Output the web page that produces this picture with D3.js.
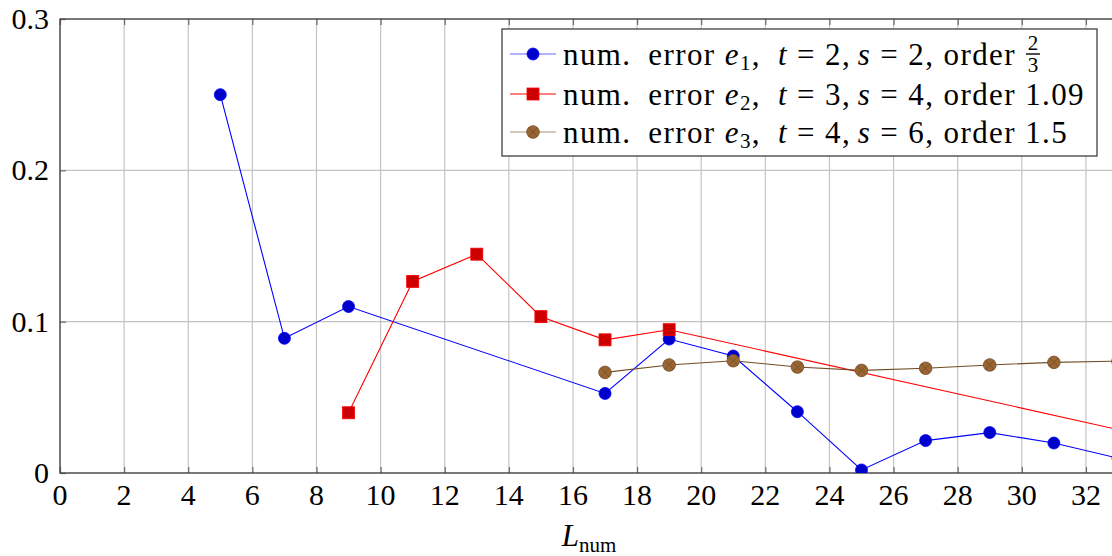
<!DOCTYPE html>
<html>
<head>
<meta charset="utf-8">
<script src="https://cdn.jsdelivr.net/npm/d3@7"></script>
<style>
  html, body { margin: 0; padding: 0; background: #fff; }
  svg { display: block; }
  text { font-family: "Liberation Serif", "DejaVu Serif", serif; fill: #000; }
</style>
</head>
<body>
<svg id="chart" width="1112" height="556"></svg>
<script>
// Numerical error against L_num for three schemes
const xE1 = [5, 7, 9, 17, 19, 21, 23, 25, 27, 29, 31, 33];
const yE1 = [0.250, 0.089, 0.110, 0.0526, 0.0885, 0.0773, 0.0405, 0.002, 0.0214, 0.0267, 0.0198, 0.0098];

const xE2 = [9, 11, 13, 15, 17, 19, 35];
const yE2 = [0.0398, 0.1266, 0.1446, 0.1033, 0.088, 0.0947, 0.0193];

const xE3 = [17, 19, 21, 23, 25, 27, 29, 31, 33];
const yE3 = [0.0665, 0.0714, 0.0742, 0.070, 0.0678, 0.0692, 0.0714, 0.0731, 0.0739];

const xTicks = d3.range(0, 33, 2);
const yTicks = [0, 0.1, 0.2, 0.3];
const yTickLabels = ["0", "0.1", "0.2", "0.3"];

const svg = d3.select("#chart");
const pLeft = 60, pTop = 19, pRight = 1118, pBottom = 473;

const x = d3.scaleLinear().domain([0, 33]).range([pLeft, pRight]);
const y = d3.scaleLinear().domain([0, 0.3]).range([pBottom, pTop]);

svg.append("defs").append("clipPath").attr("id", "plotclip")
  .append("rect").attr("x", pLeft).attr("y", pTop)
  .attr("width", pRight - pLeft).attr("height", pBottom - pTop);

// grid
const grid = svg.append("g").attr("stroke", "#c4c4c4").attr("stroke-width", 1.2);
grid.selectAll(".gx").data(xTicks).join("line")
  .attr("x1", d => x(d)).attr("x2", d => x(d)).attr("y1", pTop).attr("y2", pBottom);
grid.selectAll(".gy").data(yTicks).join("line")
  .attr("x1", pLeft).attr("x2", pRight).attr("y1", d => y(d)).attr("y2", d => y(d));

// axes with inward ticks on all four sides
const tl = 6;
const axB = svg.append("g").attr("transform", `translate(0,${pBottom})`)
  .call(d3.axisTop(x).tickValues(xTicks).tickSize(tl).tickFormat(""));
const axT = svg.append("g").attr("transform", `translate(0,${pTop})`)
  .call(d3.axisBottom(x).tickValues(xTicks).tickSize(tl).tickFormat(""));
const axL = svg.append("g").attr("transform", `translate(${pLeft},0)`)
  .call(d3.axisRight(y).tickValues(yTicks).tickSize(tl).tickFormat(""));
const axR = svg.append("g").attr("transform", `translate(${pRight},0)`)
  .call(d3.axisLeft(y).tickValues(yTicks).tickSize(tl).tickFormat(""));
[axB, axT, axL, axR].forEach(a => {
  a.select(".domain").remove();
  a.selectAll(".tick line").attr("stroke", "#6a6a6a").attr("stroke-width", 1.2);
});

// frame
svg.append("rect").attr("x", pLeft).attr("y", pTop)
  .attr("width", pRight - pLeft).attr("height", pBottom - pTop)
  .attr("fill", "none").attr("stroke", "#404040").attr("stroke-width", 1.3);

// tick labels
svg.append("g").selectAll("text").data(xTicks).join("text")
  .attr("x", d => x(d)).attr("y", pBottom + 32)
  .attr("text-anchor", "middle").attr("font-size", 30)
  .text(d => d);
svg.append("g").selectAll("text").data(yTicks).join("text")
  .attr("x", pLeft - 11).attr("y", d => y(d) + 10)
  .attr("text-anchor", "end").attr("font-size", 30)
  .text((d, i) => yTickLabels[i]);

// axis label L_num
const xl = svg.append("text").attr("x", (pLeft + pRight) / 2).attr("y", pBottom + 73)
  .attr("text-anchor", "middle").attr("font-size", 31);
xl.append("tspan").attr("font-style", "italic").text("L");
xl.append("tspan").attr("font-size", 21).attr("dy", 6).text("num");

// series
const series = [
  { xs: xE1, ys: yE1, line: "#0000ff", fill: "#0000cc", stroke: "#0000ff", mark: "circle" },
  { xs: xE2, ys: yE2, line: "#ff0000", fill: "#cc0000", stroke: "#ff0000", mark: "square" },
  { xs: xE3, ys: yE3, line: "#734d26", fill: "#996633", stroke: "#734d26", mark: "otimes" }
];

const plot = svg.append("g").attr("clip-path", "url(#plotclip)");
const lineGen = d3.line().x(d => x(d[0])).y(d => y(d[1]));

function drawMark(g, s, cx, cy) {
  if (s.mark === "circle") {
    g.append("circle").attr("cx", cx).attr("cy", cy).attr("r", 6)
      .attr("fill", s.fill).attr("stroke", s.stroke).attr("stroke-width", 0.8);
  } else if (s.mark === "square") {
    g.append("rect").attr("x", cx - 6).attr("y", cy - 6).attr("width", 12).attr("height", 12)
      .attr("fill", s.fill).attr("stroke", s.stroke).attr("stroke-width", 0.8);
  } else {
    g.append("circle").attr("cx", cx).attr("cy", cy).attr("r", 6.3)
      .attr("fill", s.fill).attr("stroke", s.stroke).attr("stroke-width", 0.8);
    const r = 6.3 * Math.SQRT1_2;
    g.append("path")
      .attr("d", `M${cx - r},${cy - r}L${cx + r},${cy + r}M${cx - r},${cy + r}L${cx + r},${cy - r}`)
      .attr("stroke", s.stroke).attr("stroke-width", 0.8);
  }
}

series.forEach(s => {
  const pts = s.xs.map((v, i) => [v, s.ys[i]]);
  plot.append("path").datum(pts).attr("d", lineGen)
    .attr("fill", "none").attr("stroke", s.line).attr("stroke-width", 1.1);
});
series.forEach(s => {
  const g = plot.append("g");
  s.xs.forEach((v, i) => drawMark(g, s, x(v), y(s.ys[i])));
});

// legend
const lg = svg.append("g");
lg.append("rect").attr("x", 502).attr("y", 29).attr("width", 595).attr("height", 127)
  .attr("fill", "#fff").attr("stroke", "#404040").attr("stroke-width", 1.3);

const legendRows = [
  { sub: "1", t: "2", s: "2", order: "frac" },
  { sub: "2", t: "3", s: "4", order: "1.09" },
  { sub: "3", t: "4", s: "6", order: "1.5" }
];
const rowY = [54, 94, 132];
legendRows.forEach((r, i) => {
  const s = series[i];
  const cy = rowY[i];
  lg.append("line").attr("x1", 510).attr("x2", 556).attr("y1", cy).attr("y2", cy)
    .attr("stroke", s.line).attr("stroke-width", 1.1).attr("opacity", i === 1 ? 1 : 0.6);
  drawMark(lg, s, 533, cy);
  const t = lg.append("text").attr("x", 563).attr("y", cy + 11).attr("font-size", 31)
    .attr("letter-spacing", 1.4);
  t.append("tspan").text("num.\u2002error ");
  t.append("tspan").attr("font-style", "italic").text("e");
  t.append("tspan").attr("font-size", 21).attr("dy", 5).text(r.sub);
  t.append("tspan").attr("dy", -5).text(",\u2002");
  t.append("tspan").attr("font-style", "italic").text("t");
  t.append("tspan").text("\u2005=\u2005" + r.t + ",\u2006");
  t.append("tspan").attr("font-style", "italic").text("s");
  t.append("tspan").text("\u2005=\u2005" + r.s + ", order ");
  if (r.order === "frac") {
    const bb = t.node().getBBox();
    const fx = bb.x + bb.width + 17;
    lg.append("text").attr("x", fx).attr("y", cy - 4).attr("font-size", 21)
      .attr("text-anchor", "middle").text("2");
    lg.append("line").attr("x1", fx - 7).attr("x2", fx + 7)
      .attr("y1", cy).attr("y2", cy).attr("stroke", "#000").attr("stroke-width", 1.4);
    lg.append("text").attr("x", fx).attr("y", cy + 18).attr("font-size", 21)
      .attr("text-anchor", "middle").text("3");
  } else {
    t.append("tspan").text(r.order);
  }
});
</script>
</body>
</html>
